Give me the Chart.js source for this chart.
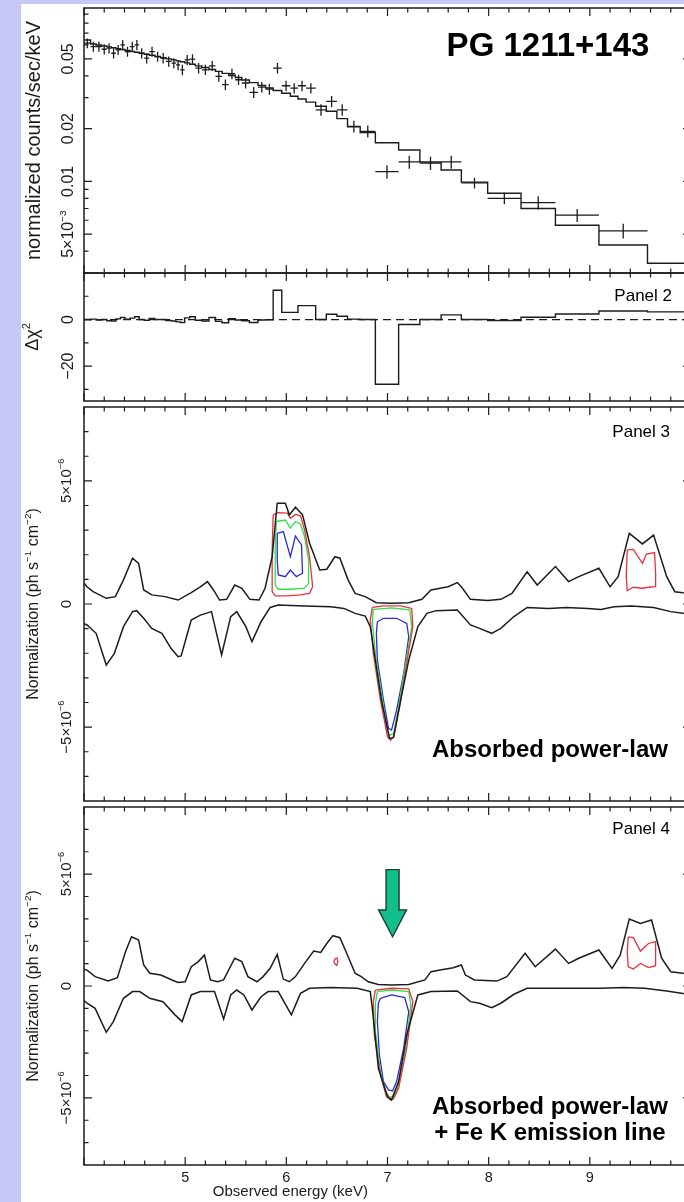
<!DOCTYPE html>
<html>
<head>
<meta charset="utf-8">
<script src="https://cdn.jsdelivr.net/npm/chart.js@4.4.1/dist/chart.umd.min.js"></script>
<style>
  html, body { margin: 0; padding: 0; }
  body { width: 684px; height: 1202px; overflow: hidden; position: relative; background: #c8c8f8; }
  #sheet { position: absolute; left: 21px; top: 4px; right: 0; bottom: 0; background: #fff; }
  canvas.panel { position: absolute; left: 0; }
</style>
</head>
<body>
<div id="sheet"></div>
<canvas id="spec" class="panel" width="700" height="290" style="top:0px"></canvas>
<canvas id="resid" class="panel" width="700" height="150" style="top:260px"></canvas>
<canvas id="scanA" class="panel" width="700" height="410" style="top:402px"></canvas>
<canvas id="scanB" class="panel" width="700" height="399" style="top:803px"></canvas>
<script>
'use strict';

// energy axis shared by all panels (keV)
const energyMin = 4;
const energyMax = 10;
const energyLabels = [5, 6, 7, 8, 9];

// panel 1: binned spectrum (bin edges, data, 1-sigma errors, folded model)
const binEdges = [4.00, 4.065, 4.12, 4.175, 4.225, 4.27, 4.315, 4.36, 4.405, 4.455, 4.50, 4.545, 4.595, 4.645,
  4.70, 4.755, 4.81, 4.865, 4.91, 4.95, 4.995, 5.045, 5.10, 5.165, 5.235, 5.30, 5.365, 5.43, 5.495, 5.56,
  5.635, 5.72, 5.795, 5.87, 5.955, 6.04, 6.115, 6.195, 6.29, 6.395, 6.50, 6.605, 6.73, 6.88, 7.11, 7.32,
  7.53, 7.73, 7.99, 8.32, 8.66, 9.09, 9.57, 10.0];
const counts = [0.0614, 0.0587, 0.0587, 0.0567, 0.0575, 0.0538, 0.0562, 0.0600, 0.0550, 0.0587, 0.0600,
  0.0538, 0.0505, 0.0550, 0.0515, 0.0505, 0.0483, 0.0472, 0.0462, 0.0433, 0.0493, 0.0498, 0.0443, 0.0433,
  0.0456, 0.0397, 0.0356, 0.0411, 0.0380, 0.0364, 0.0322, 0.0345, 0.0336, 0.0443, 0.0351, 0.0340, 0.0351,
  0.0340, 0.0256, 0.0286, 0.0256, 0.0206, 0.0193, 0.01135, 0.0129, 0.0127, 0.0129, 0.0098, 0.0080, 0.00757,
  0.00641, 0.00522];
const countErr = [0.0040, 0.0039, 0.0039, 0.0038, 0.0038, 0.0036, 0.0037, 0.0040, 0.0036, 0.0039, 0.0040,
  0.0036, 0.0034, 0.0036, 0.0034, 0.0034, 0.0032, 0.0032, 0.0031, 0.0030, 0.0033, 0.0033, 0.0030, 0.0029,
  0.0030, 0.0027, 0.0025, 0.0028, 0.0026, 0.0025, 0.0023, 0.0024, 0.0024, 0.0030, 0.0024, 0.0023, 0.0024,
  0.0023, 0.0019, 0.0021, 0.0019, 0.0016, 0.0015, 0.0010, 0.0011, 0.0011, 0.0011, 0.0007, 0.0006, 0.00065,
  0.00055, 0.0005];
const model = [0.0640, 0.0608, 0.0600, 0.0592, 0.0585, 0.0578, 0.0571, 0.0565, 0.0558, 0.0551, 0.0545,
  0.0538, 0.0531, 0.0524, 0.0516, 0.0508, 0.0500, 0.0493, 0.0487, 0.0481, 0.0474, 0.0466, 0.0456, 0.0446,
  0.0435, 0.0424, 0.0413, 0.0402, 0.0391, 0.0379, 0.0366, 0.0353, 0.0341, 0.0330, 0.0318, 0.0306, 0.0295,
  0.0283, 0.0268, 0.0251, 0.0228, 0.0205, 0.0190, 0.0166, 0.0151, 0.0129, 0.0116, 0.0099, 0.00855, 0.0070,
  0.00562, 0.00433, 0.00341];
const countTicks = [0.005, 0.01, 0.02, 0.05];
const countTickText = ['5×10^{−3}', '0.01', '0.02', '0.05'];
const countMinor = [0.003, 0.004, 0.006, 0.007, 0.008, 0.009, 0.03, 0.04, 0.06, 0.07, 0.08, 0.09];

// panel 2: delta chi-squared per bin
const deltaChi = [0, 0.2, -0.2, 0, -0.5, -0.6, 0.3, 0.9, 0.2, 0.6, 1.2, 0, -0.3, 0.5, 0, 0, -0.4, -0.6, -1.0,
  -1.3, 0.7, 1.2, -0.3, -0.6, 0.9, -0.8, -1.4, 0.4, -0.2, -0.5, -1.3, -0.2, -0.1, 12.6, 3.1, 3.1, 6.0, 6.0,
  0, 2.3, 1.4, 0.2, 0, -27.8, -2.1, 0, 2.0, 0, -0.4, 1.0, 2.4, 3.7, 3.3];
const chiTicks = [-20, 0];
const chiTickText = ['−20', '0'];
const chiMinor = [-30, -10, 10];

// panels 3-4: line normalisation scans, [keV, 1e-6 ph/s/cm2]
const normTicks = [-5, 0, 5];
const normTickText = ['−5×10^{−6}', '0', '5×10^{−6}'];
const normMinor = [-7, -6, -4, -3, -2, -1, 1, 2, 3, 4, 6, 7];

const scanAUpper = [[4.00, 0.85], [4.03, 0.70], [4.09, 0.50], [4.22, 0.23], [4.31, 0.30], [4.39, 0.98],
  [4.48, 1.86], [4.54, 1.65], [4.59, 0.57], [4.67, 0.37], [4.80, 0.30], [4.93, 0.16], [5.06, 0.46],
  [5.15, 0.70], [5.22, 0.91], [5.28, 0.57], [5.34, 0.16], [5.41, 0.19], [5.49, 0.77], [5.56, 0.64],
  [5.64, 0.19], [5.73, 0.16], [5.79, 0.64], [5.86, 1.92], [5.91, 4.09], [5.99, 4.09], [6.03, 3.62],
  [6.09, 3.93], [6.16, 3.62], [6.23, 2.47], [6.33, 1.38], [6.40, 1.41], [6.48, 1.92], [6.53, 1.86],
  [6.61, 0.98], [6.68, 0.43], [6.78, 0.30], [6.89, 0.05], [7.04, 0.03], [7.21, 0.05], [7.34, 0.19],
  [7.43, 0.57], [7.52, 0.64], [7.60, 0.70], [7.69, 0.87], [7.73, 0.70], [7.82, 0.19], [7.99, 0.14],
  [8.12, 0.19], [8.23, 0.43], [8.38, 1.31], [8.48, 0.77], [8.66, 1.52], [8.79, 0.91], [8.89, 1.11],
  [9.09, 1.45], [9.20, 0.70], [9.28, 1.11], [9.39, 2.87], [9.52, 2.44], [9.63, 2.80], [9.76, 1.11],
  [9.84, 0.50], [9.92, 0.46], [10.0, 0.45]];
const scanALower = [[4.00, -0.80], [4.03, -0.85], [4.12, -1.19], [4.22, -2.48], [4.30, -2.01], [4.39, -0.92],
  [4.48, -0.31], [4.52, -0.27], [4.59, -0.58], [4.67, -0.99], [4.77, -1.19], [4.86, -1.80], [4.93, -2.14],
  [4.96, -2.11], [5.06, -0.65], [5.15, -0.45], [5.26, -0.31], [5.31, -1.19], [5.36, -2.07], [5.45, -0.51],
  [5.51, -0.31], [5.60, -0.92], [5.66, -1.53], [5.75, -0.72], [5.84, -0.14], [5.92, -0.04], [6.18, -0.08],
  [6.44, -0.11], [6.57, -0.18], [6.68, -0.38], [6.78, -0.49], [6.83, -0.92], [6.87, -2.01], [6.94, -3.90],
  [7.02, -5.46], [7.06, -5.42], [7.13, -3.90], [7.21, -2.28], [7.30, -0.92], [7.39, -0.38], [7.48, -0.27],
  [7.69, -0.24], [7.82, -0.85], [7.91, -0.99], [8.03, -1.19], [8.12, -0.99], [8.25, -0.51], [8.38, -0.14],
  [8.59, -0.18], [8.77, -0.14], [8.98, -0.18], [9.11, -0.22], [9.24, -0.11], [9.41, -0.08], [9.63, -0.14],
  [9.80, -0.31], [9.92, -0.38], [10.0, -0.40]];
const scanAEmisRed = [[5.87, 3.62], [5.92, 3.71], [6.01, 3.69], [6.04, 3.48], [6.09, 3.64], [6.14, 3.58],
  [6.18, 3.01], [6.23, 1.92], [6.26, 0.70], [6.23, 0.43], [6.14, 0.37], [6.01, 0.33], [5.89, 0.33],
  [5.86, 0.50], [5.86, 2.20]];
const scanAEmisGreen = [[5.90, 3.35], [5.99, 3.41], [6.04, 3.08], [6.09, 3.35], [6.14, 3.25], [6.18, 2.74],
  [6.22, 1.79], [6.22, 0.84], [6.18, 0.64], [6.05, 0.60], [5.92, 0.60], [5.89, 0.77], [5.89, 2.20]];
const scanAEmisBlue = [[5.91, 2.87], [5.97, 2.94], [6.04, 1.92], [6.09, 2.76], [6.15, 2.40], [6.16, 1.25],
  [6.10, 1.11], [6.04, 1.38], [5.99, 1.11], [5.92, 1.18], [5.91, 1.79]];
const scanAAbsRed = [[6.85, -0.14], [6.96, -0.08], [7.13, -0.08], [7.24, -0.18], [7.25, -0.92], [7.19, -2.41],
  [7.12, -4.17], [7.06, -5.39], [7.03, -5.53], [7.00, -5.39], [6.93, -3.90], [6.86, -2.01], [6.83, -0.65]];
const scanAAbsGreen = [[6.86, -0.22], [7.04, -0.16], [7.22, -0.24], [7.24, -0.92], [7.18, -2.41], [7.11, -4.17],
  [7.06, -5.26], [7.02, -5.33], [7.00, -5.19], [6.95, -3.90], [6.88, -2.01], [6.85, -0.72]];
const scanAAbsBlue = [[6.90, -0.72], [6.96, -0.58], [7.09, -0.58], [7.19, -0.79], [7.21, -1.33], [7.16, -2.82],
  [7.09, -4.31], [7.04, -5.12], [7.01, -5.05], [6.96, -3.90], [6.90, -2.28], [6.89, -1.19]];
const scanAHighRed = [[9.37, 2.20], [9.43, 2.22], [9.52, 1.65], [9.56, 2.03], [9.64, 2.09], [9.65, 1.25],
  [9.65, 0.70], [9.58, 0.68], [9.52, 0.64], [9.43, 0.68], [9.37, 0.54], [9.36, 1.11]];

const scanBUpper = [[4.00, 0.75], [4.03, 0.71], [4.11, 0.42], [4.24, 0.22], [4.33, 0.37], [4.41, 1.53],
  [4.47, 2.20], [4.54, 2.05], [4.59, 0.94], [4.65, 0.57], [4.76, 0.49], [4.87, 0.27], [4.93, 0.16],
  [5.00, 0.19], [5.06, 0.86], [5.13, 1.09], [5.19, 1.38], [5.25, 0.27], [5.32, 0.19], [5.38, 0.27],
  [5.49, 1.24], [5.56, 1.09], [5.62, 0.42], [5.71, 0.19], [5.77, 0.42], [5.84, 0.79], [5.91, 1.41],
  [5.97, 0.31], [6.03, 0.19], [6.09, 0.42], [6.18, 1.01], [6.27, 1.56], [6.34, 1.50], [6.40, 1.90],
  [6.46, 2.25], [6.53, 2.16], [6.59, 1.53], [6.68, 0.57], [6.74, 0.42], [6.81, 0.19], [6.91, 0.07],
  [7.04, 0.04], [7.21, 0.07], [7.37, 0.27], [7.43, 0.64], [7.52, 0.71], [7.65, 0.82], [7.73, 0.94],
  [7.77, 0.49], [7.86, 0.27], [8.08, 0.22], [8.18, 0.42], [8.36, 1.46], [8.46, 0.86], [8.66, 1.65],
  [8.79, 1.01], [8.89, 1.24], [9.09, 1.61], [9.22, 0.79], [9.30, 1.38], [9.39, 2.99], [9.50, 2.80],
  [9.61, 2.95], [9.71, 1.24], [9.80, 0.64], [9.92, 0.57], [10.0, 0.55]];
const scanBLower = [[4.00, -0.65], [4.03, -0.77], [4.11, -1.00], [4.22, -2.07], [4.29, -1.59], [4.39, -0.55],
  [4.48, -0.25], [4.55, -0.25], [4.65, -0.55], [4.78, -0.70], [4.90, -1.29], [4.97, -1.59], [5.06, -0.40],
  [5.15, -0.25], [5.29, -0.25], [5.38, -1.47], [5.45, -0.40], [5.51, -0.18], [5.58, -0.40], [5.66, -1.07],
  [5.75, -0.48], [5.82, -0.25], [5.92, -0.25], [6.05, -1.29], [6.14, -0.33], [6.23, -0.10], [6.44, -0.07],
  [6.70, -0.10], [6.83, -0.25], [6.85, -1.00], [6.91, -3.68], [7.00, -4.94], [7.04, -5.09], [7.11, -4.27],
  [7.19, -2.19], [7.30, -0.40], [7.43, -0.25], [7.69, -0.22], [7.82, -0.70], [7.91, -0.77], [8.03, -0.97],
  [8.12, -0.77], [8.25, -0.37], [8.38, -0.10], [8.59, -0.10], [8.85, -0.10], [9.11, -0.10], [9.33, -0.07],
  [9.54, -0.10], [9.76, -0.22], [9.92, -0.33], [10.0, -0.36]];
const scanBAbsRed = [[6.88, -0.18], [7.04, -0.10], [7.21, -0.13], [7.25, -0.70], [7.19, -2.78], [7.11, -4.57],
  [7.06, -5.04], [7.03, -5.09], [6.99, -4.94], [6.93, -3.97], [6.87, -2.19], [6.86, -0.70]];
const scanBAbsGreen = [[6.90, -0.25], [7.04, -0.18], [7.21, -0.25], [7.23, -0.85], [7.18, -2.78], [7.10, -4.57],
  [7.06, -4.94], [7.02, -4.96], [6.98, -4.72], [6.93, -3.82], [6.88, -2.04], [6.88, -0.77]];
const scanBAbsBlue = [[6.93, -0.55], [7.04, -0.40], [7.17, -0.52], [7.21, -1.15], [7.16, -2.78], [7.09, -4.27],
  [7.05, -4.69], [7.01, -4.64], [6.96, -4.27], [6.92, -3.08], [6.90, -1.59], [6.91, -0.77]];
const scanBLineRed = [[6.48, 1.20], [6.50, 1.25], [6.51, 1.10], [6.50, 0.93], [6.48, 0.98], [6.47, 1.10]];
const scanBHighRed = [[9.38, 2.20], [9.43, 2.16], [9.50, 1.56], [9.58, 1.90], [9.65, 1.98], [9.65, 1.38],
  [9.65, 0.91], [9.58, 0.82], [9.50, 1.01], [9.43, 0.76], [9.38, 0.86], [9.37, 1.53]];

// marker over the 7 keV trough in panel 4: [keV, shaft top, head base, tip]
const feArrow = [7.05, 5.2, 3.4, 2.2];

const INK = '#1c1c1c';
const RED = '#e8323a';
const GREEN = '#2ee04a';
const BLUE = '#2a2ad8';
const FONT = '"Liberation Sans", Arial, Helvetica, sans-serif';

// text with ^{...} superscripts
const parseRich = s => {
	const parts = [];
	const re = /\^\{([^}]*)\}/g;
	let last = 0, m;
	while ((m = re.exec(s))) {
		if (m.index > last) parts.push({ t: s.slice(last, m.index) });
		parts.push({ t: m[1], sup: true });
		last = re.lastIndex;
	}
	if (last < s.length) parts.push({ t: s.slice(last) });
	return parts;
};

const drawRich = (ctx, str, cx, cy, size, rotate, align) => {
	const parts = parseRich(str);
	const fontFor = p => (p.sup ? size * 0.62 : size) + 'px ' + FONT;
	let w = 0;
	parts.forEach(p => { ctx.font = fontFor(p); w += ctx.measureText(p.t).width; });
	ctx.save();
	ctx.translate(cx, cy);
	if (rotate) ctx.rotate(-Math.PI / 2);
	ctx.textBaseline = 'middle';
	ctx.textAlign = 'left';
	let x = align === 'right' ? -w : -w / 2;
	parts.forEach(p => {
		ctx.font = fontFor(p);
		ctx.fillText(p.t, x, p.sup ? -size * 0.36 : 0);
		x += ctx.measureText(p.t).width;
	});
	ctx.restore();
};

// boxed frame with inward ticks on all four sides, rotated y labels
const frame = {
	id: 'frame',
	afterDraw(chart, args, o) {
		const { ctx, chartArea: a } = chart;
		const xs = chart.scales.x, ys = chart.scales.y;
		ctx.save();
		ctx.strokeStyle = INK;
		ctx.fillStyle = INK;
		ctx.lineWidth = 1.5;
		ctx.strokeRect(a.left, a.top, a.right - a.left, a.bottom - a.top);

		ctx.lineWidth = 1.2;
		ctx.beginPath();
		for (let i = 0; i <= (energyMax - energyMin) * 5; i++) {
			const e = energyMin + i * 0.2;
			const len = i % 5 === 0 ? 8 : 4.5;
			const px = xs.getPixelForValue(e);
			ctx.moveTo(px, a.bottom); ctx.lineTo(px, a.bottom - len);
			ctx.moveTo(px, a.top); ctx.lineTo(px, a.top + len);
		}
		const tickY = (v, len) => {
			const py = ys.getPixelForValue(v);
			ctx.moveTo(a.left, py); ctx.lineTo(a.left + len, py);
			ctx.moveTo(a.right, py); ctx.lineTo(a.right - len, py);
		};
		o.major.forEach(v => tickY(v, 8));
		o.minor.forEach(v => tickY(v, 4.5));
		ctx.stroke();

		o.major.forEach((v, i) => {
			drawRich(ctx, o.labels[i], o.labelX, ys.getPixelForValue(v), o.labelSize, true);
		});
		drawRich(ctx, o.title, o.titleX, (a.top + a.bottom) / 2, o.titleSize, true);

		if (o.xTitle) {
			energyLabels.forEach(e => {
				drawRich(ctx, String(e), xs.getPixelForValue(e), a.bottom + 13, 14.5, false);
			});
			drawRich(ctx, o.xTitle, xs.getPixelForValue(6.04), a.bottom + 27, 15, false);
		}
		ctx.restore();
	}
};

// data points drawn as bin-width / error-bar crosses
const crosses = {
	id: 'crosses',
	afterDatasetsDraw(chart, args, o) {
		if (!o.values) return;
		const { ctx, chartArea: a } = chart;
		const xs = chart.scales.x, ys = chart.scales.y;
		ctx.save();
		ctx.beginPath();
		ctx.rect(a.left, a.top, a.right - a.left, a.bottom - a.top);
		ctx.clip();
		ctx.strokeStyle = INK;
		ctx.lineWidth = 1.3;
		ctx.beginPath();
		o.values.forEach((v, i) => {
			const lo = o.edges[i], hi = o.edges[i + 1];
			const py = ys.getPixelForValue(v);
			const pc = xs.getPixelForValue((lo + hi) / 2);
			ctx.moveTo(xs.getPixelForValue(lo), py);
			ctx.lineTo(xs.getPixelForValue(hi), py);
			ctx.moveTo(pc, ys.getPixelForValue(v + o.errors[i]));
			ctx.lineTo(pc, ys.getPixelForValue(v - o.errors[i]));
		});
		ctx.stroke();
		ctx.restore();
	}
};

// free text placed in canvas pixels
const notes = {
	id: 'notes',
	afterDraw(chart, args, o) {
		if (!o.items) return;
		const ctx = chart.ctx;
		ctx.save();
		ctx.fillStyle = '#000';
		ctx.textBaseline = 'middle';
		o.items.forEach(n => {
			ctx.font = (n.bold ? 'bold ' : '') + n.size + 'px ' + FONT;
			ctx.textAlign = n.align || 'center';
			ctx.fillText(n.text, n.x, n.y);
		});
		ctx.restore();
	}
};

// downward block arrow in data coordinates
const arrow = {
	id: 'arrow',
	afterDatasetsDraw(chart, args, o) {
		if (!o.spec) return;
		const { ctx } = chart;
		const xs = chart.scales.x, ys = chart.scales.y;
		const [e, top, neck, tip] = o.spec;
		const cx = xs.getPixelForValue(e);
		const yTop = ys.getPixelForValue(top), yNeck = ys.getPixelForValue(neck), yTip = ys.getPixelForValue(tip);
		ctx.save();
		ctx.beginPath();
		ctx.moveTo(cx - 6.5, yTop);
		ctx.lineTo(cx + 6.5, yTop);
		ctx.lineTo(cx + 6.5, yNeck);
		ctx.lineTo(cx + 14, yNeck);
		ctx.lineTo(cx, yTip);
		ctx.lineTo(cx - 14, yNeck);
		ctx.lineTo(cx - 6.5, yNeck);
		ctx.closePath();
		ctx.fillStyle = '#12bf8c';
		ctx.fill();
		ctx.strokeStyle = '#1b3d33';
		ctx.lineWidth = 1.4;
		ctx.stroke();
		ctx.restore();
	}
};

const stepPoints = (edges, vals) => {
	const pts = vals.map((v, i) => ({ x: edges[i], y: v }));
	pts.push({ x: edges[vals.length], y: vals[vals.length - 1] });
	return pts;
};
const toPoints = list => list.map(p => ({ x: p[0], y: p[1] }));
const loop = list => { const pts = toPoints(list); pts.push(pts[0]); return pts; };

const line = (data, color, width, extra) => Object.assign({
	data: data,
	borderColor: color,
	borderWidth: width,
	pointRadius: 0,
	showLine: true,
	fill: false,
	tension: 0
}, extra || {});

const buildOptions = (yScale, padding, plugins) => ({
	responsive: false,
	animation: false,
	events: [],
	layout: { padding: padding },
	scales: {
		x: { type: 'linear', min: energyMin, max: energyMax, display: false },
		y: Object.assign({ display: false }, yScale)
	},
	plugins: Object.assign({ legend: { display: false }, tooltip: { enabled: false } }, plugins)
});

const allPlugins = [crosses, arrow, frame, notes];
const normScale = { type: 'linear', min: -8, max: 8 };
const normFrame = {
	major: normTicks, minor: normMinor,
	labels: normTickText, labelX: 67, labelSize: 15,
	title: 'Normalization (ph s^{−1} cm^{−2})', titleX: 34, titleSize: 16
};

new Chart(document.getElementById('spec'), {
	type: 'scatter',
	data: {
		datasets: [line(stepPoints(binEdges, model), INK, 1.4, { stepped: true })]
	},
	options: buildOptions({ type: 'logarithmic', min: 0.003, max: 0.0975 },
		{ left: 84, right: 9, top: 8, bottom: 17 }, {
			frame: {
				major: countTicks, minor: countMinor,
				labels: countTickText, labelX: 69, labelSize: 16,
				title: 'normalized counts/sec/keV', titleX: 34, titleSize: 20
			},
			crosses: { edges: binEdges, values: counts, errors: countErr },
			notes: { items: [{ text: 'PG 1211+143', x: 548, y: 47, size: 33, bold: true }] }
		}),
	plugins: allPlugins
});

new Chart(document.getElementById('resid'), {
	type: 'scatter',
	data: {
		datasets: [
			line([{ x: energyMin, y: 0 }, { x: energyMax, y: 0 }], INK, 1.2, { borderDash: [8, 5] }),
			line(stepPoints(binEdges, deltaChi), INK, 1.4, { stepped: true })
		]
	},
	options: buildOptions({ type: 'linear', min: -35, max: 20 },
		{ left: 84, right: 9, top: 13, bottom: 9 }, {
			frame: {
				major: chiTicks, minor: chiMinor,
				labels: chiTickText, labelX: 69, labelSize: 16,
				title: 'Δχ^{2}', titleX: 33, titleSize: 18
			},
			notes: { items: [{ text: 'Panel 2', x: 672, y: 36, size: 17, align: 'right' }] }
		}),
	plugins: allPlugins
});

new Chart(document.getElementById('scanA'), {
	type: 'scatter',
	data: {
		datasets: [
			line(toPoints(scanAUpper), INK, 1.5),
			line(toPoints(scanALower), INK, 1.5),
			line(loop(scanAEmisRed), RED, 1.3),
			line(loop(scanAEmisGreen), GREEN, 1.3),
			line(loop(scanAEmisBlue), BLUE, 1.3),
			line(loop(scanAAbsRed), RED, 1.3),
			line(loop(scanAAbsGreen), GREEN, 1.3),
			line(loop(scanAAbsBlue), BLUE, 1.3),
			line(loop(scanAHighRed), RED, 1.3)
		]
	},
	options: buildOptions(normScale, { left: 84, right: 9, top: 5, bottom: 11 }, {
		frame: normFrame,
		notes: {
			items: [
				{ text: 'Panel 3', x: 670, y: 30, size: 17, align: 'right' },
				{ text: 'Absorbed power-law', x: 550, y: 348, size: 24, bold: true }
			]
		}
	}),
	plugins: allPlugins
});

new Chart(document.getElementById('scanB'), {
	type: 'scatter',
	data: {
		datasets: [
			line(toPoints(scanBUpper), INK, 1.5),
			line(toPoints(scanBLower), INK, 1.5),
			line(loop(scanBAbsRed), RED, 1.3),
			line(loop(scanBAbsGreen), GREEN, 1.3),
			line(loop(scanBAbsBlue), BLUE, 1.3),
			line(loop(scanBLineRed), RED, 1.3),
			line(loop(scanBHighRed), RED, 1.3)
		]
	},
	options: buildOptions(normScale, { left: 84, right: 9, top: 4, bottom: 37 }, {
		frame: Object.assign({}, normFrame, { xTitle: 'Observed energy (keV)' }),
		arrow: { spec: feArrow },
		notes: {
			items: [
				{ text: 'Panel 4', x: 670, y: 26, size: 17, align: 'right' },
				{ text: 'Absorbed power-law', x: 550, y: 304, size: 24, bold: true },
				{ text: '+ Fe K emission line', x: 550, y: 330, size: 24, bold: true }
			]
		}
	}),
	plugins: allPlugins
});
</script>
</body>
</html>
